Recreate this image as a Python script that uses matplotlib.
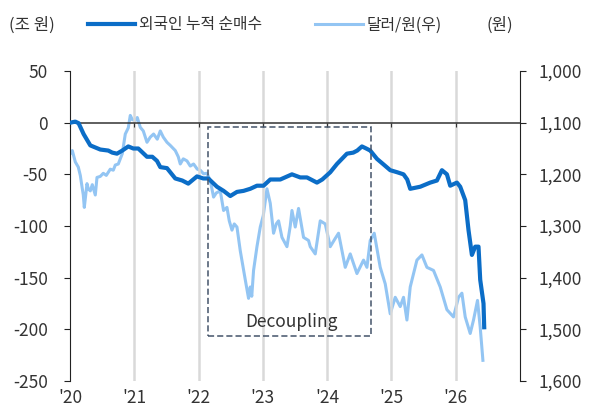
import matplotlib
matplotlib.use("Agg")
import matplotlib.pyplot as plt
from matplotlib.patches import Rectangle
from matplotlib.lines import Line2D
from matplotlib.ticker import FuncFormatter

plt.rcParams['font.family'] = ['Noto Sans CJK KR', 'DejaVu Sans']
plt.rcParams['axes.unicode_minus'] = False

# ---- data (x in pixel-read fractional years) ----
flow_x = [70, 75, 78.3, 83.3, 90, 100, 108, 112, 116.7, 122, 128, 133, 138, 146.7, 152, 156.7,
          160, 166.7, 175, 182, 188, 196.7, 203, 208, 216.7, 223.3, 230, 236.7, 243.3, 250,
          256.7, 263.3, 270, 280, 291.7, 300, 306.7, 316.7, 322, 330, 336.7, 346.7, 353, 357,
          361.7, 366, 370, 376.7, 384, 390, 397, 403.3, 407, 410, 415, 420, 425, 430, 436.7,
          441.7, 446.7, 450, 456.7, 460, 465, 468.3, 471.7, 475, 478.3, 480, 483.3, 484]
flow_val = [0, 1, -0.5, -11, -22, -26, -27, -29, -30, -27, -23, -25, -25, -33, -33, -37,
            -43, -44, -54, -56, -59, -52, -54, -54, -62, -66, -71, -67, -66, -64,
            -61, -61, -55, -55, -50, -53, -53, -58, -55, -48, -40, -30, -29, -27,
            -23, -25, -27, -35, -41, -46, -48, -50, -55, -64, -63, -62, -60, -58, -56,
            -46, -50, -61, -58, -62, -75, -104, -128, -120, -120, -152, -175, -198]

fx_x = [70, 72, 75, 78, 80, 81.7, 83, 84, 86.7, 88, 90, 92, 95, 96.7, 100, 103, 106, 110, 113,
        115, 118, 120, 122, 125, 128, 130, 132, 135, 137, 140, 143, 146.7, 150, 153.3, 157,
        160, 163, 166.7, 170, 175, 178, 180, 183, 186.7, 190, 193.3, 197, 200, 203.3, 206.7,
        210, 213.3, 216, 220, 223.3, 226.7, 229, 231.7, 234, 236.7, 240, 245, 248.3, 250,
        251.5, 253.3, 256.7, 260, 263, 266.7, 270, 273.3, 276, 278.3, 281.7, 286.7, 290,
        291.7, 295, 298.3, 303.3, 308.3, 310, 315, 320, 325, 330, 335, 338.3, 345, 350,
        356.7, 363.3, 366.7, 370, 374, 380, 385, 390, 395, 400, 403.3, 406.7, 410, 416.7,
        421.7, 426.7, 433.3, 440, 446.7, 453.3, 458.3, 461.7, 465, 470, 473.3, 477.3, 480,
        482.7]
fx_l = [-30, -27, -38, -43, -51, -62, -70, -82, -59, -64, -66, -60, -70, -53, -52, -49, -51,
        -45, -46, -41, -40, -35, -30, -11, -5, 7, 3, 2, 5, -4.5, -8, -19, -14, -11, -16,
        -8, -14, -19, -22, -27, -33, -40, -35, -37, -42, -40, -45, -46, -49.5, -49,
        -56, -72, -68, -66, -85, -82, -95, -104, -98, -101, -124, -152, -170, -159,
        -168, -143, -120, -101, -90, -64, -78, -107, -98, -95, -111, -120, -100,
        -85, -101, -83, -111, -114, -120, -127, -95, -98, -120, -112, -107, -140, -127,
        -146, -133, -140, -114, -107, -140, -156, -185, -169, -178, -169, -191, -159, -133,
        -128, -140, -143, -159, -181, -188, -169, -165, -188, -204, -191, -172, -198,
        -230]

def px_to_year(x):
    return 2020 + (x - 69.7) / 64.3

flow_dates = [px_to_year(x) for x in flow_x]
fx_dates = [px_to_year(x) for x in fx_x]
fx_krw = [1100 - 2 * v for v in fx_l]

years = [2020, 2021, 2022, 2023, 2024, 2025, 2026]
year_labels = ["'20", "'21", "'22", "'23", "'24", "'25", "'26"]
left_ticks = [50, 0, -50, -100, -150, -200, -250]
right_ticks = [1000, 1100, 1200, 1300, 1400, 1500, 1600]

dark = '#0B6DC7'
light = '#93C5F3'
txt = '#333333'

fig = plt.figure(figsize=(5.96, 4.11), dpi=100)
ax = fig.add_axes([70/596, 1-381/411, 450/596, 310/411])
ax2 = ax.twinx()

ax.set_xlim(2020, 2027)
ax.set_ylim(-250, 50)
ax2.set_ylim(1600, 1000)

for y in years[1:]:
    ax.axvline(y, color='#D9D9D9', lw=1.8, zorder=0)

ax2.plot(fx_dates, fx_krw, color=light, lw=2.2, solid_joinstyle='round')
ax.plot(flow_dates, flow_val, color=dark, lw=3.0, solid_joinstyle='round', zorder=3)
ax.axhline(0, color='#333333', lw=1.1, zorder=2)

ax.set_zorder(ax2.get_zorder() + 1)
ax.patch.set_visible(False)

# decoupling box
ax.add_patch(Rectangle((px_to_year(207.7), -206.6), px_to_year(370.7) - px_to_year(207.7), 202.1,
                       fill=False, edgecolor='#44546A', lw=1.1, linestyle=(0, (4, 2)), zorder=4))
ax.text(px_to_year(291.5), -193, 'Decoupling', ha='center', va='center', fontsize=12.5,
        color=txt, zorder=5)

# spines
for s in ['top', 'bottom', 'right']:
    ax.spines[s].set_visible(False)
for s in ['top', 'bottom', 'left']:
    ax2.spines[s].set_visible(False)
ax.spines['left'].set_color('#222222')
ax2.spines['right'].set_color('#222222')

ax.set_yticks(left_ticks)
ax.set_yticklabels([str(v) for v in left_ticks])
ax.tick_params(axis='y', length=4, pad=12, labelsize=12.5, labelcolor=txt, color='#222222')
ax2.set_yticks(right_ticks)
ax2.yaxis.set_major_formatter(FuncFormatter(lambda v, p: f'{int(v):,}'))
ax2.tick_params(axis='y', length=4, pad=9, labelsize=12.5, labelcolor=txt, color='#222222')

ax.set_xticks(years)
ax.spines['bottom'].set_position(('data', 0))
ax.tick_params(axis='x', length=3, color='#333333', labelbottom=False)
sec = ax.secondary_xaxis('bottom')
sec.set_xticks(years)
sec.set_xticklabels(year_labels)
sec.spines['bottom'].set_visible(False)
sec.tick_params(axis='x', length=0, pad=6, labelsize=12.5, labelcolor=txt)

# legend & units
handles = [Line2D([], [], color=dark, lw=3.0), Line2D([], [], color=light, lw=2.2)]
fig.legend(handles, ['외국인 누적 순매수', '달러/원(우)'], loc='center left',
           bbox_to_anchor=(80/596, 1-25/411), ncol=2, frameon=False, fontsize=11.4,
           borderpad=0, handlelength=3.0, handletextpad=0.25, columnspacing=3.35,
           labelcolor=txt)
fig.text(9/596, 1-25/411, '(조 원)', ha='left', va='center', fontsize=12, color=txt)
fig.text(513/596, 1-25/411, '(원)', ha='right', va='center', fontsize=12, color=txt)

fig.savefig('out.png', dpi=100)
